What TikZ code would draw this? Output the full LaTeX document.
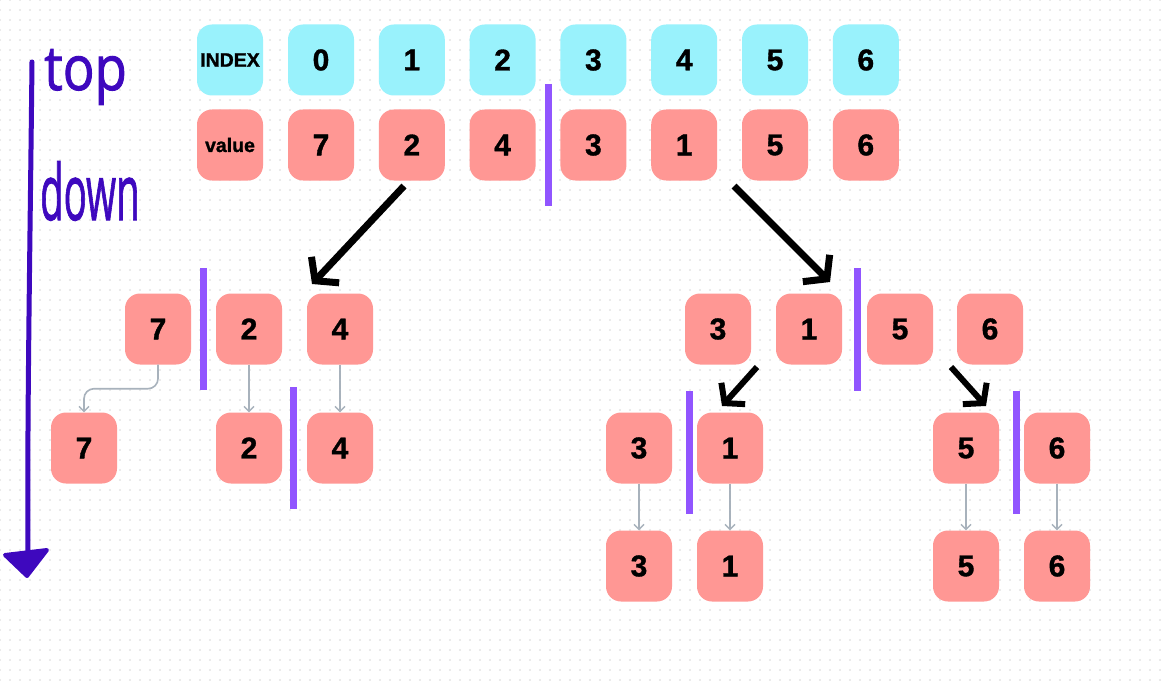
\documentclass[tikz,border=0pt]{standalone}
\usepackage{fontspec}
\setmainfont{Liberation Sans}[BoldFeatures={FakeBold=1.2}]
\newfontfamily\handfont{Open Sans}[FakeBold=1.5]
\usetikzlibrary{arrows.meta}
\definecolor{cyanbox}{RGB}{153,242,252}
\definecolor{salmon}{RGB}{255,151,148}
\definecolor{barpurple}{RGB}{145,85,255}
\definecolor{conngray}{RGB}{168,178,188}
\definecolor{inkpurple}{RGB}{62,8,190}
\definecolor{dotc}{RGB}{235,235,235}
\tikzset{
  cell/.style={minimum width=66pt,minimum height=71pt,rounded corners=15pt,inner sep=0pt,
     font=\fontsize{30}{30}\selectfont\bfseries},
  cyancell/.style={cell,fill=cyanbox},
  redcell/.style={cell,fill=salmon},
  small/.style={font=\fontsize{19.5}{20}\selectfont\bfseries},
  divider/.style={draw=barpurple,line width=7pt},
  bigarrow/.style={draw=black,line width=7pt,-{Straight Barb[length=15pt,width=38pt,line width=7pt]}},
  midarrow/.style={draw=black,line width=6pt,-{Straight Barb[length=13pt,width=32pt,line width=6pt]}},
  grayarrow/.style={draw=conngray,line width=1.6pt,-{Straight Barb[length=5pt,width=10pt,line width=1.4pt]}},
  hand/.style={text=inkpurple,inner sep=0pt,font=\handfont\fontsize{62}{62}\selectfont},
  dotrow/.style={draw=dotc,line width=2pt,dash pattern=on 2pt off 8pt},
}
\begin{document}
\begin{tikzpicture}[x=1pt,y=-1pt]
\useasboundingbox (0,0) rectangle (1167,682);
\fill[white] (0,0) rectangle (1167,682);
% dot grid
\foreach \y in {0,10,...,680} { \draw[dotrow] (-1,\y) -- (1167,\y); }

% top rows
\node[cyancell,small] (iname) at (230,60) {INDEX};
\node[redcell,small] (vname) at (230,145) {value};
\foreach \v [count=\i from 0] in {7,2,4,3,1,5,6} {
  \node[cyancell] (i\i) at (321+90.8*\i,60) {\i};
  \node[redcell] (v\i) at (321+90.8*\i,145) {\v};
}
\draw[divider] (548,84) -- (548,206);

% level 2
\node[redcell] (a7) at (158,329) {7};
\node[redcell] (a2) at (249,329) {2};
\node[redcell] (a4) at (340,329) {4};
\node[redcell] (b3) at (718,329) {3};
\node[redcell] (b1) at (809,329) {1};
\node[redcell] (b5) at (900,329) {5};
\node[redcell] (b6) at (990,329) {6};
\draw[divider] (203,268) -- (203,390);
\draw[divider] (857,268) -- (857,391);

% level 3
\node[redcell] (c7) at (84,448) {7};
\node[redcell] (c2) at (249,448) {2};
\node[redcell] (c4) at (340,448) {4};
\node[redcell] (d3) at (639,448) {3};
\node[redcell] (d1) at (730,448) {1};
\node[redcell] (d5) at (966,448) {5};
\node[redcell] (d6) at (1057,448) {6};
\draw[divider] (293,387) -- (293,509);
\draw[divider] (689,391) -- (689,514);
\draw[divider] (1016,391) -- (1016,514);

% level 4
\node[redcell] (e3) at (639,566) {3};
\node[redcell] (e1) at (730,566) {1};
\node[redcell] (e5) at (966,566) {5};
\node[redcell] (e6) at (1057,566) {6};

% big arrows
\coordinate (s1) at (404,186);
\coordinate (t1) at (312,284);
\coordinate (s2) at (734,186);
\coordinate (t2) at (830,282);
\draw[bigarrow] (s1) -- (t1);
\draw[bigarrow] (s2) -- (t2);
\coordinate (s3) at (757,367);
\coordinate (t3) at (722,406);
\coordinate (s4) at (951,367);
\coordinate (t4) at (986,406);
\draw[midarrow] (s3) -- (t3);
\draw[midarrow] (s4) -- (t4);

% gray connectors
\draw[grayarrow,rounded corners=10pt] (a7.south) -- ++(0,24) -| (c7.north);
\draw[grayarrow] (a2.south) -- (c2.north);
\draw[grayarrow] (a4.south) -- (c4.north);
\draw[grayarrow] (d3.south) -- (e3.north);
\draw[grayarrow] (d1.south) -- (e1.north);
\draw[grayarrow] (d5.south) -- (e5.north);
\draw[grayarrow] (d6.south) -- (e6.north);

% handwritten axis
\coordinate (ax0) at (32,62);
\coordinate (ax1) at (28,552);
\draw[inkpurple,line width=5pt,line cap=round] (ax0) .. controls (30,250) and (27,420) .. (ax1);
\fill[inkpurple,draw=inkpurple,line width=4pt,line join=round] (5,555) -- (47,550) -- (27,576) -- cycle;
\node[hand,xscale=0.85,anchor=base west] (top) at (44,90) {top};
\node[hand,xscale=0.62,yscale=1.25,anchor=base west] (down) at (40,220) {down};
\end{tikzpicture}
\end{document}
